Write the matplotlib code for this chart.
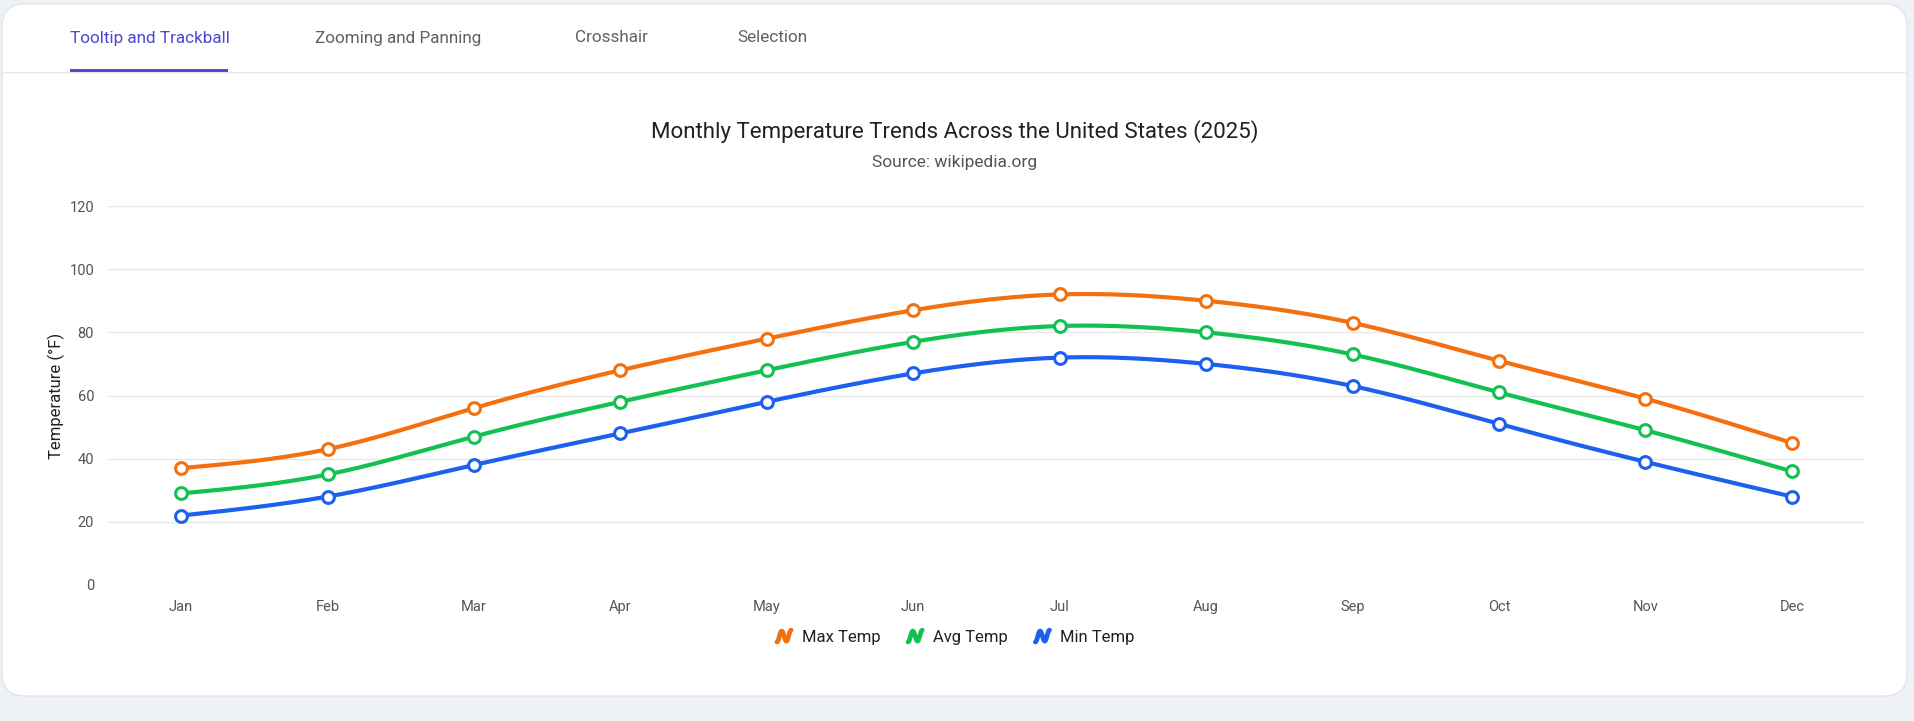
import numpy as np
import matplotlib
matplotlib.use("Agg")
import matplotlib.pyplot as plt
from matplotlib.patches import FancyBboxPatch, Rectangle
from matplotlib.legend_handler import HandlerBase
from matplotlib.lines import Line2D

plt.rcParams['font.family'] = ['Roboto', 'DejaVu Sans']

# ---- data ----
months = ['Jan', 'Feb', 'Mar', 'Apr', 'May', 'Jun',
          'Jul', 'Aug', 'Sep', 'Oct', 'Nov', 'Dec']
max_temp = [37, 43, 56, 68, 78, 87, 92, 90, 83, 71, 59, 45]
avg_temp = [29, 35, 47, 58, 68, 77, 82, 80, 73, 61, 49, 36]
min_temp = [22, 28, 38, 48, 58, 67, 72, 70, 63, 51, 39, 28]
series_names = ['Max Temp', 'Avg Temp', 'Min Temp']
series_colors = ['#F4700F', '#12C151', '#1D5FEE']
tabs = ['Tooltip and Trackball', 'Zooming and Panning', 'Crosshair', 'Selection']


def natural_spline(x, y, n=60):
    # natural cubic spline through the points (chart type "spline")
    x = np.asarray(x, float)
    y = np.asarray(y, float)
    k = len(x)
    h = np.diff(x)
    A = np.zeros((k, k))
    b = np.zeros(k)
    A[0, 0] = A[-1, -1] = 1
    for i in range(1, k - 1):
        A[i, i - 1] = h[i - 1]
        A[i, i] = 2 * (h[i - 1] + h[i])
        A[i, i + 1] = h[i]
        b[i] = 3 * ((y[i + 1] - y[i]) / h[i] - (y[i] - y[i - 1]) / h[i - 1])
    c = np.linalg.solve(A, b)
    xs, ys = [], []
    for i in range(k - 1):
        bi = (y[i + 1] - y[i]) / h[i] - h[i] * (2 * c[i] + c[i + 1]) / 3
        di = (c[i + 1] - c[i]) / (3 * h[i])
        dx = np.linspace(0, h[i], n)
        xs.append(x[i] + dx)
        ys.append(y[i] + bi * dx + c[i] * dx ** 2 + di * dx ** 3)
    return np.concatenate(xs), np.concatenate(ys)


class SquiggleHandler(HandlerBase):
    # small wavy "spline" icon like the web legend
    def create_artists(self, legend, orig_handle, xdescent, ydescent,
                       width, height, fontsize, trans):
        t = np.linspace(0, 1, 40)
        w = width * 0.85
        x0 = -xdescent + (width - w) / 2
        xx = x0 + t * w
        yy = -ydescent + height * (0.5 - 0.38 * np.cos(3 * np.pi * t) + 0.1 * (t - 0.5))
        ln = Line2D(xx, yy, color=orig_handle.get_color(), lw=3.4,
                    solid_capstyle='round', solid_joinstyle='round',
                    transform=trans)
        return [ln]


fig = plt.figure(figsize=(19.14, 7.21), dpi=100)
fig.patch.set_facecolor('#eef1f6')

W, H = 1914.0, 721.0

# card
card = FancyBboxPatch((2 / W, 1 - 696 / H), 1905 / W, 692 / H,
                      boxstyle='round,pad=0,rounding_size=0.012',
                      transform=fig.transFigure, facecolor='white',
                      edgecolor='#e2e4e8', lw=1.0, zorder=-5,
                      mutation_aspect=W / H)
fig.patches.append(card)

# tab header
fig.add_artist(Line2D([3 / W, 1906 / W], [1 - 72 / H] * 2, color='#e8e8ea',
                      lw=1, transform=fig.transFigure, zorder=-4))
tab_x = [70, 315, 575, 737]
for i, (tx, label) in enumerate(zip(tab_x, tabs)):
    fig.text(tx / W, 1 - 38 / H, label, ha='left', va='center',
             fontsize=12.3, color='#4f45d1' if i == 0 else '#616161')
fig.add_artist(Rectangle((70 / W, 1 - 71.5 / H), 158 / W, 2.5 / H,
                         transform=fig.transFigure, facecolor='#5548d9',
                         edgecolor='none'))

# titles
fig.text(955 / W, 1 - 132 / H,
         'Monthly Temperature Trends Across the United States (2025)',
         ha='center', va='center', fontsize=16, color='#212121')
fig.text(955 / W, 1 - 162 / H, 'Source: wikipedia.org', ha='center',
         va='center', fontsize=12.5, color='#555555')

# plot area
ax = fig.add_axes([108 / W, 1 - 585 / H, (1865 - 108) / W, (585 - 206) / H])
ax.set_facecolor('none')
x = np.arange(len(months))

handles = []
for vals, name, col in zip([max_temp, avg_temp, min_temp], series_names, series_colors):
    sx, sy = natural_spline(x, vals)
    ax.plot(sx, sy, color=col, lw=3, solid_capstyle='round', zorder=3)
    ax.plot(x, vals, ls='none', marker='o', ms=8.5, mfc='white',
            mec=col, mew=2.2, zorder=4)
    handles.append(Line2D([], [], color=col, label=name))

ax.set_xlim(-0.5, 11.5)
ax.set_ylim(0, 120)
ax.set_yticks(range(0, 121, 20))
ax.set_xticks(x)
ax.set_xticklabels(months)
ax.grid(axis='y', color='#e6e6e6', lw=1)
ax.set_axisbelow(True)
for s in ax.spines.values():
    s.set_visible(False)
ax.tick_params(axis='both', length=0, labelsize=10.5, labelcolor='#555555')
ax.tick_params(axis='y', pad=10)
ax.tick_params(axis='x', pad=11)
ax.set_ylabel('Temperature (°F)', fontsize=12, color='#212121', labelpad=3)

leg = fig.legend(handles=handles, loc='center', bbox_to_anchor=(955 / W, 1 - 637 / H),
                 ncol=3, frameon=False, fontsize=12, handlelength=1.0,
                 handleheight=0.9, handletextpad=0.55, columnspacing=1.6,
                 handler_map={Line2D: SquiggleHandler()})
for t in leg.get_texts():
    t.set_color('#212121')

fig.savefig('out.png', dpi=100, facecolor=fig.get_facecolor())
